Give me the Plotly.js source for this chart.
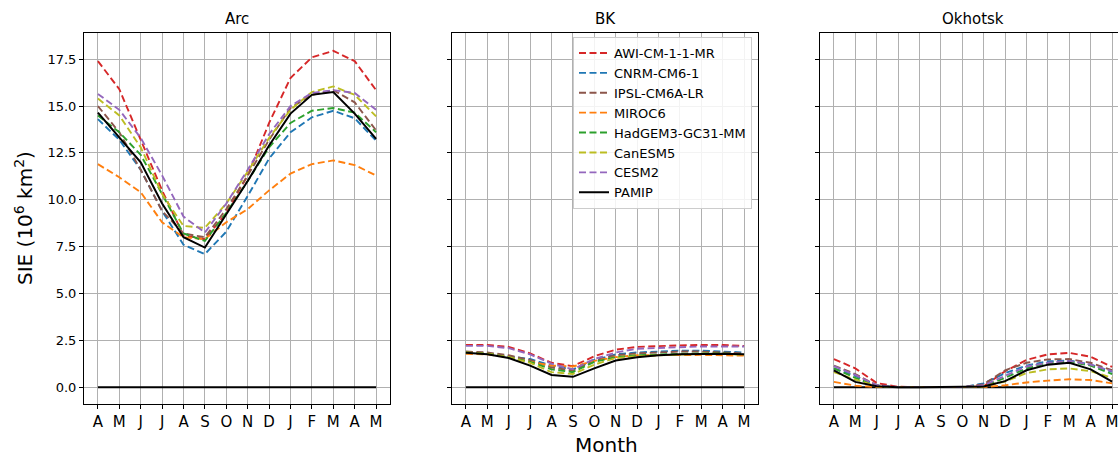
<!DOCTYPE html>
<html>
<head>
<meta charset="utf-8">
<script src="https://cdn.plot.ly/plotly-3.0.1.min.js"></script>
<style>
html,body{margin:0;padding:0;overflow:hidden;background:#fff;}
#chart{width:1130px;height:458px;}
</style>
</head>
<body>
<div id="chart"></div>
<script>
const months = ["A","M","J","J","A","S","O","N","D","J","F","M","A","M"];
const regions = ["Arc","BK","Okhotsk"];
const models = ["AWI-CM-1-1-MR","CNRM-CM6-1","IPSL-CM6A-LR","MIROC6","HadGEM3-GC31-MM","CanESM5","CESM2","PAMIP"];
const colors = ["#d62728","#1f77b4","#8c564b","#ff7f0e","#2ca02c","#bcbd22","#9467bd","#000000"];

// Arc
const arcAWI   = [17.4,15.9,13.2,10.5,8.1,7.9,9.3,11.3,14.1,16.5,17.6,17.95,17.4,15.85];
const arcCNRM  = [14.3,13.2,11.6,9.4,7.6,7.1,8.3,10.2,12.2,13.6,14.4,14.75,14.35,13.15];
const arcIPSL  = [15.0,13.6,11.6,9.4,8.2,8.0,9.5,11.3,13.2,14.9,15.6,15.85,15.2,13.7];
const arcMIROC = [11.9,11.2,10.4,8.8,8.0,7.9,8.8,9.5,10.5,11.4,11.9,12.1,11.85,11.3];
const arcHad   = [14.5,13.6,12.4,10.3,8.2,7.8,9.3,11.0,12.8,14.1,14.75,14.9,14.65,13.6];
const arcCan   = [15.4,14.5,12.8,10.3,8.6,8.5,9.8,11.5,13.3,14.8,15.75,16.05,15.6,14.45];
const arcCESM  = [15.65,14.8,13.3,11.3,9.1,8.25,9.8,11.6,13.5,15.0,15.7,15.85,15.7,14.8];
const arcPAMIP = [14.65,13.3,12.0,9.8,8.0,7.45,9.2,11.0,12.9,14.6,15.6,15.75,14.6,13.25];

// BK
const bkAWI   = [2.25,2.25,2.15,1.8,1.3,1.12,1.65,2.0,2.15,2.2,2.23,2.25,2.25,2.2];
const bkCNRM  = [1.85,1.8,1.65,1.5,1.15,0.95,1.45,1.75,1.85,1.9,1.95,1.95,1.9,1.85];
const bkIPSL  = [1.9,1.85,1.7,1.45,1.05,0.88,1.4,1.7,1.8,1.85,1.9,1.9,1.85,1.8];
const bkMIROC = [1.78,1.75,1.6,1.35,1.15,1.1,1.4,1.6,1.7,1.72,1.72,1.72,1.7,1.68];
const bkHad   = [1.85,1.78,1.6,1.35,0.95,0.8,1.35,1.6,1.7,1.75,1.78,1.8,1.8,1.75];
const bkCan   = [1.85,1.78,1.6,1.3,0.8,0.7,1.2,1.55,1.65,1.7,1.75,1.78,1.78,1.72];
const bkCESM  = [2.2,2.2,2.08,1.75,1.25,0.95,1.5,1.85,2.05,2.1,2.15,2.17,2.17,2.17];
const bkPAMIP = [1.83,1.75,1.55,1.15,0.65,0.55,1.0,1.42,1.6,1.7,1.75,1.77,1.78,1.75];

// Okhotsk
const okAWI   = [1.5,1.0,0.22,0.02,0,0,0,0.05,0.85,1.45,1.75,1.83,1.62,1.08];
const okCNRM  = [1.0,0.6,0.1,0,0,0,0,0.2,0.75,1.15,1.38,1.42,1.2,0.82];
const okIPSL  = [1.15,0.7,0.1,0,0,0,0,0.15,0.9,1.3,1.48,1.5,1.3,0.9];
const okMIROC = [0.28,0.08,0,0,0,0,0,0,0.1,0.25,0.35,0.42,0.38,0.2];
const okHad   = [1.0,0.5,0.05,0,0,0,0,0.05,0.5,1.0,1.28,1.35,1.15,0.7];
const okCan   = [0.8,0.4,0.05,0,0,0,0,0.05,0.3,0.75,0.95,1.0,0.85,0.5];
const okCESM  = [1.12,0.65,0.1,0,0,0,0,0.1,0.6,1.1,1.3,1.4,1.2,0.85];
const okPAMIP = [0.9,0.28,0.05,0,0,0,0,0.03,0.32,0.9,1.2,1.3,0.95,0.3];

const zeroLine = [0,0,0,0,0,0,0,0,0,0,0,0,0,0];

const panelData = [
  [arcAWI,arcCNRM,arcIPSL,arcMIROC,arcHad,arcCan,arcCESM,arcPAMIP],
  [bkAWI,bkCNRM,bkIPSL,bkMIROC,bkHad,bkCan,bkCESM,bkPAMIP],
  [okAWI,okCNRM,okIPSL,okMIROC,okHad,okCan,okCESM,okPAMIP]
];

const W = 1130, H = 458;
const xIdx = months.map((m,i)=>i);
const traces = [];
panelData.forEach((series, p) => {
  const xa = p === 0 ? "x" : "x" + (p+1);
  const ya = p === 0 ? "y" : "y" + (p+1);
  traces.push({x:xIdx, y:zeroLine, xaxis:xa, yaxis:ya, mode:"lines",
    line:{color:"#000", width:2}, showlegend:false, hoverinfo:"skip"});
  series.forEach((vals, k) => {
    const isPamip = k === models.length - 1;
    traces.push({
      x:xIdx, y:vals, xaxis:xa, yaxis:ya, mode:"lines", name:models[k],
      line:{color:colors[k], width:isPamip?2:1.9, dash:isPamip?"solid":"7px,3.5px"},
      showlegend: p === 1, legendrank: k+1
    });
  });
});

const panelLeft = [84, 452, 820];
const panelW = 306;
const yTop = 33, yBot = 404;
const layout = {
  width: W, height: H,
  margin:{l:0,r:0,t:0,b:0},
  paper_bgcolor:"#fff", plot_bgcolor:"#fff",
  font:{family:"DejaVu Sans", color:"#000"},
  showlegend:true,
  legend:{x:752/W, xanchor:"right", y:1-37/H, yanchor:"top",
    bgcolor:"rgba(255,255,255,0.85)", bordercolor:"#cccccc", borderwidth:1,
    font:{size:13, family:"DejaVu Sans"}, tracegroupgap:0, itemwidth:30},
  annotations:[],
};
const yDomain = [1 - yBot/H, 1 - yTop/H];
for (let p = 0; p < 3; p++) {
  const sfx = p === 0 ? "" : String(p+1);
  layout["xaxis"+sfx] = {
    domain:[panelLeft[p]/W, (panelLeft[p]+panelW)/W],
    range:[-0.65, 13.65], tickmode:"array", tickvals:xIdx, ticktext:months,
    showgrid:true, gridcolor:"#b0b0b0", gridwidth:1, zeroline:false,
    showline:true, mirror:true, linecolor:"#000", linewidth:1,
    ticks:"outside", ticklen:4, tickcolor:"#000",
    tickfont:{size:15, family:"DejaVu Sans"}, anchor: p===0?"y":"y"+(p+1),
    fixedrange:true
  };
  layout["yaxis"+sfx] = {
    domain:yDomain, range:[-0.9, 18.9],
    tickmode:"array", tickvals:[0,2.5,5,7.5,10,12.5,15,17.5],
    ticktext:["0.0","2.5","5.0","7.5","10.0","12.5","15.0","17.5"],
    showticklabels: p === 0,
    showgrid:true, gridcolor:"#b0b0b0", gridwidth:1, zeroline:false,
    showline:true, mirror:true, linecolor:"#000", linewidth:1,
    ticks:"outside", ticklen:4, tickcolor:"#000",
    tickfont:{size:13, family:"DejaVu Sans"}, anchor: p===0?"x":"x"+(p+1),
    fixedrange:true
  };
  layout.annotations.push({text:regions[p], xref:"paper", yref:"paper",
    x:(panelLeft[p]+panelW/2)/W, y:1-19/H, xanchor:"center", yanchor:"middle",
    showarrow:false, font:{size:15, family:"DejaVu Sans", color:"#000"}});
}
layout.annotations.push({text:"Month", xref:"paper", yref:"paper",
  x:606/W, y:1-445/H, xanchor:"center", yanchor:"middle", showarrow:false,
  font:{size:20, family:"DejaVu Sans", color:"#000"}});
layout.annotations.push({text:"SIE (10<sup>6</sup> km<sup>2</sup>)", xref:"paper", yref:"paper",
  x:24/W, y:1-218/H, xanchor:"center", yanchor:"middle", showarrow:false, textangle:-90,
  font:{size:20, family:"DejaVu Sans", color:"#000"}});

Plotly.newPlot("chart", traces, layout, {displayModeBar:false, staticPlot:true});
</script>
</body>
</html>
